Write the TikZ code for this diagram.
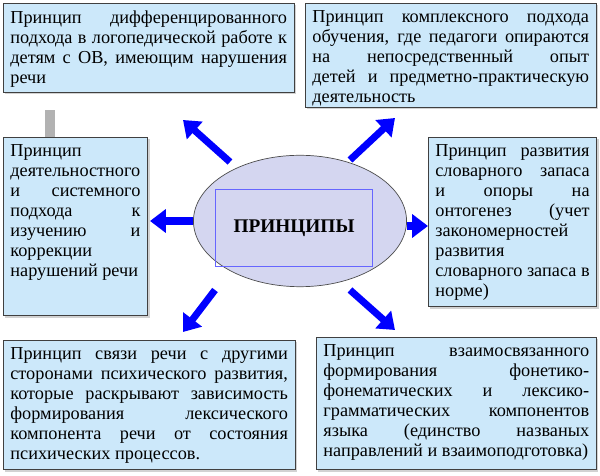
\documentclass[tikz,border=0pt]{standalone}
\usepackage{fontspec}
\setmainfont{Liberation Serif}
\usetikzlibrary{arrows.meta,shadows,shapes.geometric}

\begin{document}
\begin{tikzpicture}[x=0.02cm,y=-0.02cm]
   \tikzstyle{princbox}=[draw=black!75,fill={rgb,255:red,204;green,232;blue,250},anchor=north west,
      inner sep=4pt,font=\fontsize{10.4}{11.4}\selectfont,
      drop shadow={shadow xshift=1.2pt,shadow yshift=-1.2pt,fill=black!35}]
   \tikzstyle{bluearrow}=[draw=blue!70!black,line width=4pt,
      -{Triangle[length=9pt,width=13pt]},blue]
   \newcommand{\boxtext}[3]{\parbox[t][#2][t]{#1}{\rightskip=0pt plus 0pt\parfillskip=0pt plus 1fil #3}}
   \useasboundingbox (0,0) rectangle (600,476);
   \fill[black!30] (45,110) rectangle (55,137);
   \node[princbox] (dif) at (3,3)
      {\boxtext{157.5pt}{42.5pt}{Принцип дифференцированного подхода в логопедической работе к детям с ОВ, имеющим нарушения речи}};
   \node[princbox] (kompl) at (305,3)
      {\boxtext{157.5pt}{51pt}{Принцип комплексного подхода обучения, где педагоги опираются на непосредственный опыт детей и предметно-практическую деятельность}};
   \node[princbox] (deyat) at (3,137)
      {\boxtext{74pt}{93.5pt}{Принцип деятельностного и системного подхода к изучению и коррекции нарушений речи}};
   \node[princbox] (slov) at (428,137)
      {\boxtext{87.8pt}{88.4pt}{Принцип развития словарного запаса и опоры на онтогенез (учет закономерностей развития словарного запаса в норме)}};
   \node[princbox] (svyaz) at (3,340)
      {\boxtext{158pt}{65.7pt}{Принцип связи речи с другими сторонами психического развития, которые раскрывают зависимость формирования лексического компонента речи от состояния психических процессов.}};
   \node[princbox] (vzaim) at (316,337)
      {\boxtext{151.3pt}{67.4pt}{Принцип взаимосвязанного формирования фонетико-фонематических и лексико-грамматических компонентов языка (единство названых направлений и взаимоподготовка)}};
   % center
   \node[ellipse,draw=black!70,fill={rgb,255:red,212;green,214;blue,240},minimum width=121.3pt,
      minimum height=74.8pt] (princ) at (300,221) {};
   \node[draw=blue!60,minimum width=89.6pt,minimum height=43.7pt,
      font=\bfseries\fontsize{11}{12}\selectfont] (cap) at (294,228) {ПРИНЦИПЫ};
   % arrows
   \coordinate (a1) at (230,162); \coordinate (b1) at (183,120);
   \coordinate (a2) at (350,160); \coordinate (b2) at (395,118);
   \coordinate (a3) at (193,221); \coordinate (b3) at (150,221);
   \coordinate (a4) at (407,226); \coordinate (b4) at (428,226);
   \coordinate (a5) at (215,290); \coordinate (b5) at (183,332);
   \coordinate (a6) at (350,290); \coordinate (b6) at (395,330);
   \foreach \i in {1,...,6}
      \draw[bluearrow] (a\i) -- (b\i);
\end{tikzpicture}
\end{document}
